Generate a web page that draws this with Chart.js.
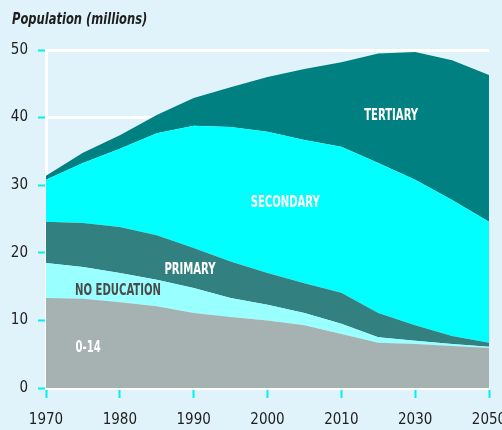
<!DOCTYPE html>
<html lang="en">
<head>
    <meta charset="UTF-8">
    <title>Population (millions)</title>
    <script src="https://cdn.jsdelivr.net/npm/chart.js"></script>
    <style>
        body{
            margin: 0;
            background-color: #e1f3fa;
        }
        #box{
            width: 502px;
            height: 430px;
        }
    </style>
</head>
<body>

<div id="box">
    <canvas id="popChart" width="502" height="430"></canvas>
</div>

<script>
    const years = ['1970', '1975', '1980', '1985', '1990', '1995', '2000', '2005', '2010', '2020', '2030', '2040', '2050'];
    const age0to14    = [13.3, 13.2, 12.7, 12.1, 11.1, 10.5, 10.0, 9.3, 8.0, 6.7, 6.5, 6.2, 5.9];
    const noEducation = [5.2, 4.7, 4.3, 3.9, 3.7, 2.8, 2.3, 1.8, 1.5, 0.8, 0.5, 0.3, 0.2];
    const primary     = [6.1, 6.5, 6.8, 6.6, 5.9, 5.4, 4.7, 4.4, 4.6, 3.6, 2.3, 1.2, 0.6];
    const secondary   = [6.2, 8.9, 11.6, 15.1, 18.1, 19.9, 20.9, 21.2, 21.6, 22.2, 21.5, 20.1, 17.9];
    const tertiary    = [0.6, 1.5, 2.0, 2.7, 4.1, 5.9, 8.1, 10.5, 12.5, 16.2, 18.9, 20.7, 21.7];

    // label text, x index, y value, colour
    const areaLabels = [
        ['TERTIARY', 9.35, 40.2, '#ffffff'],
        ['SECONDARY', 6.48, 27.4, '#ffffff'],
        ['PRIMARY', 3.9, 17.5, '#ffffff'],
        ['NO EDUCATION', 1.95, 14.3, '#4a4a4a'],
        ['0-14', 1.14, 5.9, '#ffffff']
    ];

    const condensed = "'Liberation Sans Narrow', 'DejaVu Sans Condensed', sans-serif";

    // fake a condensed face by squeezing the text horizontally
    function narrowText(ctx, text, x, y, squeeze) {
        ctx.save();
        ctx.translate(x, y);
        ctx.scale(squeeze, 1);
        ctx.fillText(text, 0, 0);
        ctx.restore();
    }

    const labelPlugin = {
        id: 'areaLabels',
        afterDatasetsDraw(chart) {
            const ctx = chart.ctx;
            const xs = chart.scales.x, ys = chart.scales.y;
            ctx.save();
            ctx.font = 'bold 16px ' + condensed;
            ctx.textAlign = 'center';
            ctx.textBaseline = 'middle';
            areaLabels.forEach(l => {
                ctx.fillStyle = l[3];
                narrowText(ctx, l[0], xs.getPixelForValue(l[1]), ys.getPixelForValue(l[2]), 0.7);
            });
            // title
            ctx.fillStyle = '#1e1e1e';
            ctx.font = 'italic bold 16px ' + condensed;
            ctx.textAlign = 'left';
            ctx.textBaseline = 'alphabetic';
            narrowText(ctx, 'Population (millions)', 12, 24, 0.8);
            ctx.restore();
        }
    };

    function makeSet(label, data, color, fill) {
        return {
            label: label,
            data: data,
            backgroundColor: color,
            borderColor: color,
            borderWidth: 0,
            pointRadius: 0,
            tension: 0,
            fill: fill
        };
    }

    const ctx = document.getElementById('popChart').getContext('2d');
    new Chart(ctx, {
        type: 'line',
        data: {
            labels: years,
            datasets: [
                makeSet('0-14', age0to14, '#a6b1b1', 'origin'),
                makeSet('No education', noEducation, '#99ffff', '-1'),
                makeSet('Primary', primary, '#338080', '-1'),
                makeSet('Secondary', secondary, '#00ffff', '-1'),
                makeSet('Tertiary', tertiary, '#008080', '-1')
            ]
        },
        options: {
            responsive: false,
            animation: false,
            layout: { padding: { top: 50, right: 13, left: 0, bottom: 0 } },
            plugins: {
                legend: { display: false },
                tooltip: { enabled: false }
            },
            scales: {
                x: {
                    afterBuildTicks: s => { s.ticks = s.ticks.filter((t, i) => i % 2 === 0); },
                    afterFit: s => { s.height = 42; s.paddingLeft = 0; s.paddingRight = 0; },
                    grid: { drawOnChartArea: false, tickColor: '#00f0f0', tickLength: 10, tickWidth: 2 },
                    border: { color: '#ffffff', width: 3 },
                    ticks: {
                        autoSkip: false,
                        maxRotation: 0,
                        padding: 13,
                        color: '#1e1e1e',
                        font: { family: condensed, size: 15 }
                    }
                },
                y: {
                    stacked: true,
                    min: 0,
                    max: 50,
                    afterFit: s => { s.width = 46; s.paddingTop = 0; s.paddingBottom = 0; },
                    grid: { color: '#ffffff', lineWidth: 3, tickColor: '#00f0f0', tickLength: 8, tickWidth: 2 },
                    border: { color: '#ffffff', width: 3 },
                    ticks: {
                        stepSize: 10,
                        padding: 10,
                        color: '#1e1e1e',
                        font: { family: condensed, size: 15 }
                    }
                }
            }
        },
        plugins: [labelPlugin]
    });
</script>
</body>
</html>
